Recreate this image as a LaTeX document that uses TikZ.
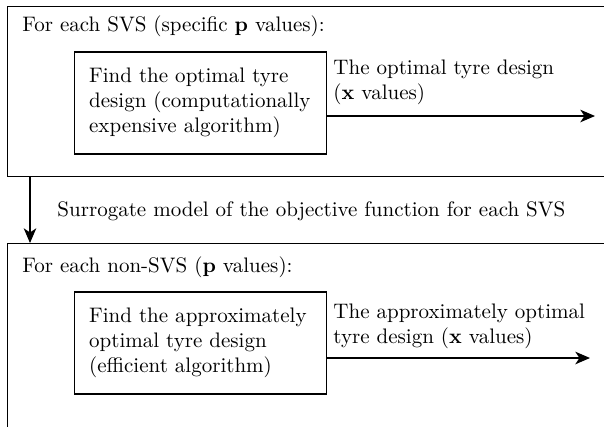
\documentclass[tikz,border=0pt]{standalone}
\usetikzlibrary{arrows.meta}
\begin{document}
\begin{tikzpicture}[x=0.476pt,y=-0.476pt,
  frame/.style={draw, line width=0.6pt, rectangle, inner sep=0pt},
  procbox/.style={draw, line width=0.6pt, rectangle, text width=106pt, inner xsep=7pt, inner ysep=0pt, minimum height=48.5pt, align=left},
  lbl/.style={inner sep=0pt, align=left},
  flow/.style={line width=0.6pt, -{Stealth[length=7pt,width=6pt,inset=2pt]}}
]
\useasboundingbox (0,0) rectangle (604,426);
\begin{scope}
\clip (0,0) rectangle (604,426);
\node[frame, anchor=north west, minimum width=330pt, minimum height=80.9pt] (outer1) at (7,6) {};
\node[frame, anchor=north west, minimum width=330pt, minimum height=122pt] (outer2) at (7,243) {};
\end{scope}
\node[lbl, anchor=base west] (hdr1) at (22,31) {For each SVS (specific \textbf{p} values):};
\node[procbox] (box1) at (200.5,103) {Find the optimal tyre\\design (computationally\\expensive algorithm)};
\node[lbl, anchor=north west] (lab1) at (333,59) {The optimal tyre design\\(\textbf{x} values)};
\coordinate (e1) at (595,116);
\draw[flow] (box1.east |- e1) -- (e1);
\coordinate (vx) at (30,0);
\draw[flow] (vx |- outer1.south) -- (vx |- outer2.north);
\node[lbl, anchor=base west] (sur) at (57,216) {Surrogate model of the objective function for each SVS};
\node[lbl, anchor=base west] (hdr2) at (22,272) {For each non-SVS (\textbf{p} values):};
\node[procbox] (box2) at (200.5,343) {Find the approximately\\optimal tyre design\\(efficient algorithm)};
\node[lbl, anchor=north west] (lab2) at (333,303) {The approximately optimal\\tyre design (\textbf{x} values)};
\coordinate (e2) at (590,358);
\draw[flow] (box2.east |- e2) -- (e2);
\end{tikzpicture}
\end{document}
